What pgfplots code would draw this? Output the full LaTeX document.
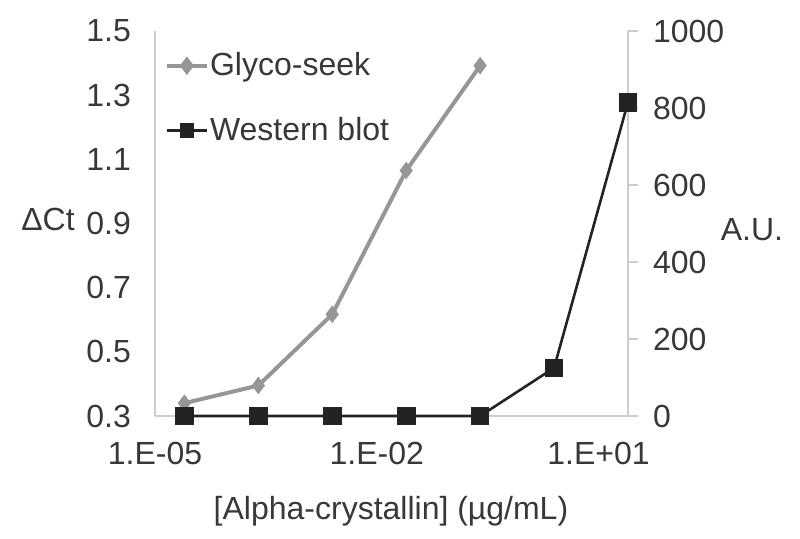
\documentclass[border=0pt]{standalone}
\usepackage{pgfplots}
\pgfplotsset{compat=1.18}
\usepackage{fontspec}
\setmainfont{Liberation Sans}
\definecolor{glyco}{RGB}{150,150,150}
\definecolor{wb}{RGB}{35,35,35}
\definecolor{axgray}{RGB}{205,205,205}
\newcommand{\bigf}{\fontsize{16}{19}\selectfont}
\begin{document}
\begin{tikzpicture}
\path[use as bounding box] (-77.5pt,-61.5pt) rectangle (322.5pt,208pt);
\begin{axis}[
  at={(0,0)}, anchor=south west,
  scale only axis, width=236.5pt, height=192.5pt,
  xmode=log, xmin=1e-5, xmax=25,
  ymin=0.3, ymax=1.5,
  axis x line*=bottom, axis y line*=left,
  axis line style={-, axgray, line width=0.9pt},
  xtick={1e-5,1e-2,1e1}, xticklabels={1.E-05,1.E-02,1.E+01},
  minor xtick={},
  ytick={0.3,0.5,0.7,0.9,1.1,1.3,1.5},
  major tick length=0pt, minor tick length=0pt,
  /pgf/number format/assume math mode=true,
  /pgf/number format/fixed, /pgf/number format/precision=1, /pgf/number format/fixed zerofill,
  ticklabel style={font=\bigf, text=black!78},
  yticklabel style={xshift=-8.5pt},
  xticklabel style={yshift=-9.5pt},
  clip=false,
]
\addplot[glyco, line width=2pt, mark=diamond*, mark size=4pt, mark options={fill=glyco, draw=glyco, line width=0.5pt}]
  coordinates {(2.5e-5,0.34) (2.5e-4,0.395) (2.5e-3,0.617) (2.5e-2,1.065) (2.5e-1,1.392)};
\end{axis}
\begin{axis}[
  at={(0,0)}, anchor=south west,
  scale only axis, width=236.5pt, height=192.5pt,
  xmode=log, xmin=1e-5, xmax=25,
  ymin=0, ymax=1000,
  axis x line=none, axis y line*=right,
  axis line style={-, axgray, line width=0.9pt},
  ytick={0,200,400,600,800,1000},
  major tick length=5pt, tick align=outside,
  tick style={axgray, line width=0.9pt},
  /pgf/number format/assume math mode=true,
  /pgf/number format/1000 sep={},
  ticklabel style={font=\bigf, text=black!78},
  yticklabel style={xshift=4pt},
  clip=false,
  legend style={at={(axis description cs:0.02,0.948)}, anchor=north west, draw=none, fill=none,
    font=\bigf, text=black!78, row sep=18pt, inner sep=0pt,
    nodes={inner sep=0.6pt}},
  legend cell align=left,
  legend image code/.code={\draw[mark repeat=2,mark phase=2,#1] plot coordinates {(0pt,0pt) (10pt,0pt) (20pt,0pt)};},
]
\addlegendimage{glyco, line width=2pt, mark=diamond*, mark size=3pt, mark options={fill=glyco, draw=glyco}}
\addlegendentry{Glyco-seek}
\addlegendimage{wb, line width=1.3pt, mark=square*, mark size=3pt, mark options={fill=wb, draw=wb}}
\addlegendentry{Western blot}
\addplot[wb, line width=1.3pt, mark=square*, mark size=4pt, mark options={fill=wb, draw=wb}, forget plot]
  coordinates {(2.5e-5,0) (2.5e-4,0) (2.5e-3,0) (2.5e-2,0) (2.5e-1,0) (2.5,125) (25,815)};
\end{axis}
\node[font=\bigf, text=black!78] at (-53.5pt,98.5pt) {ΔCt};
\node[font=\bigf, text=black!78] at (298.5pt,93pt) {A.U.};
\node[font=\bigf, text=black!78] at (118pt,-47.5pt) {[Alpha-crystallin] (µg/mL)};
\end{tikzpicture}
\end{document}
